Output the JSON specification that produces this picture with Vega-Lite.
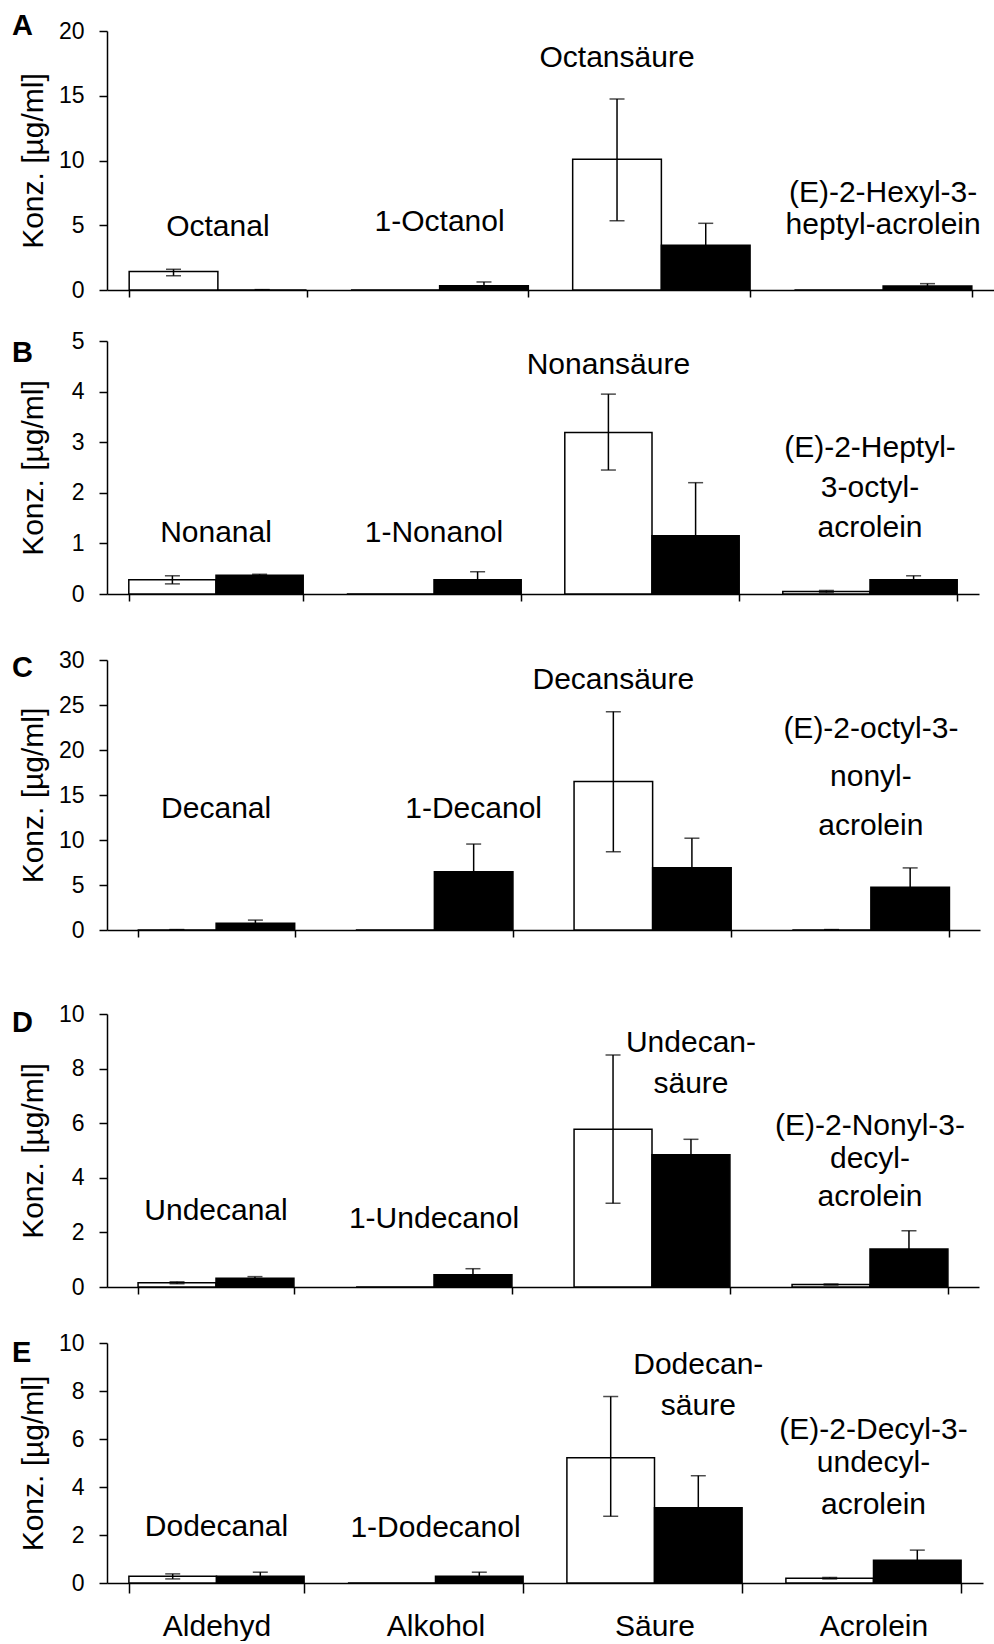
{
  "$schema": "https://vega.github.io/schema/vega-lite/v6.json",
  "padding": {"left": 12, "top": 11, "right": 0, "bottom": 0},
  "spacing": 28,
  "background": "white",
  "resolve": {"scale": {"xOffset": "independent", "fill": "independent"}},
  "config": {
    "view": {"stroke": null},
    "font": "Liberation Sans",
    "axis": {"domainColor": "black", "tickColor": "black", "labelColor": "black", "titleColor": "black", "grid": false, "labelFont": "Liberation Sans", "titleFont": "Liberation Sans", "domainWidth": 1.5, "tickWidth": 1.5},
    "axisY": {"tickSize": 8, "labelPadding": 15, "labelFontSize": 23, "titleFontSize": 30, "titleFontWeight": "normal", "titlePadding": 9, "minExtent": 50},
    "axisX": {"tickSize": 7, "tickBand": "extent", "labels": false},
    "title": {"anchor": "start", "frame": "group", "offset": 0, "dx": -95, "fontSize": 29, "fontWeight": "bold", "font": "Liberation Sans", "color": "black", "baseline": "alphabetic"}
  },
  "datasets": {
    "bars": [
      {"p":"A","cat":"Aldehyd","s":"w","v":1.42,"lo":1.1,"hi":1.6},
      {"p":"A","cat":"Aldehyd","s":"b","v":0,"lo":0,"hi":0.03},
      {"p":"A","cat":"Alkohol","s":"w","v":0,"lo":null,"hi":null},
      {"p":"A","cat":"Alkohol","s":"b","v":0.33,"lo":0.04,"hi":0.62},
      {"p":"A","cat":"Säure","s":"w","v":10.1,"lo":5.35,"hi":14.75},
      {"p":"A","cat":"Säure","s":"b","v":3.45,"lo":1.75,"hi":5.15},
      {"p":"A","cat":"Acrolein","s":"w","v":0,"lo":null,"hi":null},
      {"p":"A","cat":"Acrolein","s":"b","v":0.31,"lo":0.13,"hi":0.49},
      {"p":"B","cat":"Aldehyd","s":"w","v":0.28,"lo":0.2,"hi":0.36},
      {"p":"B","cat":"Aldehyd","s":"b","v":0.37,"lo":0.35,"hi":0.39},
      {"p":"B","cat":"Alkohol","s":"w","v":0,"lo":null,"hi":null},
      {"p":"B","cat":"Alkohol","s":"b","v":0.28,"lo":0.12,"hi":0.44},
      {"p":"B","cat":"Säure","s":"w","v":3.19,"lo":2.45,"hi":3.95},
      {"p":"B","cat":"Säure","s":"b","v":1.15,"lo":0.1,"hi":2.2},
      {"p":"B","cat":"Acrolein","s":"w","v":0.05,"lo":0.03,"hi":0.07},
      {"p":"B","cat":"Acrolein","s":"b","v":0.28,"lo":0.2,"hi":0.36},
      {"p":"C","cat":"Aldehyd","s":"w","v":0,"lo":0,"hi":0.05},
      {"p":"C","cat":"Aldehyd","s":"b","v":0.74,"lo":0.37,"hi":1.1},
      {"p":"C","cat":"Alkohol","s":"w","v":0,"lo":null,"hi":null},
      {"p":"C","cat":"Alkohol","s":"b","v":6.48,"lo":3.4,"hi":9.55},
      {"p":"C","cat":"Säure","s":"w","v":16.5,"lo":8.7,"hi":24.26},
      {"p":"C","cat":"Säure","s":"b","v":6.93,"lo":3.6,"hi":10.2},
      {"p":"C","cat":"Acrolein","s":"w","v":0,"lo":0,"hi":0.05},
      {"p":"C","cat":"Acrolein","s":"b","v":4.74,"lo":2.6,"hi":6.9},
      {"p":"D","cat":"Aldehyd","s":"w","v":0.16,"lo":0.12,"hi":0.19},
      {"p":"D","cat":"Aldehyd","s":"b","v":0.32,"lo":0.26,"hi":0.38},
      {"p":"D","cat":"Alkohol","s":"w","v":0,"lo":null,"hi":null},
      {"p":"D","cat":"Alkohol","s":"b","v":0.45,"lo":0.23,"hi":0.67},
      {"p":"D","cat":"Säure","s":"w","v":5.78,"lo":3.07,"hi":8.5},
      {"p":"D","cat":"Säure","s":"b","v":4.84,"lo":4.27,"hi":5.41},
      {"p":"D","cat":"Acrolein","s":"w","v":0.09,"lo":0.07,"hi":0.11},
      {"p":"D","cat":"Acrolein","s":"b","v":1.39,"lo":0.72,"hi":2.06},
      {"p":"E","cat":"Aldehyd","s":"w","v":0.28,"lo":0.17,"hi":0.38},
      {"p":"E","cat":"Aldehyd","s":"b","v":0.28,"lo":0.12,"hi":0.45},
      {"p":"E","cat":"Alkohol","s":"w","v":0,"lo":null,"hi":null},
      {"p":"E","cat":"Alkohol","s":"b","v":0.28,"lo":0.12,"hi":0.45},
      {"p":"E","cat":"Säure","s":"w","v":5.22,"lo":2.78,"hi":7.77},
      {"p":"E","cat":"Säure","s":"b","v":3.14,"lo":1.8,"hi":4.47},
      {"p":"E","cat":"Acrolein","s":"w","v":0.2,"lo":0.17,"hi":0.23},
      {"p":"E","cat":"Acrolein","s":"b","v":0.95,"lo":0.53,"hi":1.37}
    ],
    "labels": [
      {"p":"A","cat":"Aldehyd","a":"c","t":"Octanal","ly":4.19},
      {"p":"A","cat":"Alkohol","a":"c","t":"1-Octanol","ly":4.57},
      {"p":"A","cat":"Säure","a":"w","t":"Octansäure","ly":17.2},
      {"p":"A","cat":"Acrolein","a":"c","t":"(E)-2-Hexyl-3-","ly":6.77},
      {"p":"A","cat":"Acrolein","a":"c","t":"heptyl-acrolein","ly":4.31},
      {"p":"B","cat":"Aldehyd","a":"c","t":"Nonanal","ly":1.03},
      {"p":"B","cat":"Alkohol","a":"c","t":"1-Nonanol","ly":1.03},
      {"p":"B","cat":"Säure","a":"w","t":"Nonansäure","ly":4.34},
      {"p":"B","cat":"Acrolein","a":"c","t":"(E)-2-Heptyl-","ly":2.7},
      {"p":"B","cat":"Acrolein","a":"c","t":"3-octyl-","ly":1.91},
      {"p":"B","cat":"Acrolein","a":"c","t":"acrolein","ly":1.12},
      {"p":"C","cat":"Aldehyd","a":"c","t":"Decanal","ly":12.5},
      {"p":"C","cat":"Alkohol","a":"b","t":"1-Decanol","ly":12.4},
      {"p":"C","cat":"Säure","a":"w","t":"Decansäure","ly":26.8},
      {"p":"C","cat":"Acrolein","a":"c","t":"(E)-2-octyl-3-","ly":21.3},
      {"p":"C","cat":"Acrolein","a":"c","t":"nonyl-","ly":16.0},
      {"p":"C","cat":"Acrolein","a":"c","t":"acrolein","ly":10.6},
      {"p":"D","cat":"Aldehyd","a":"c","t":"Undecanal","ly":2.46},
      {"p":"D","cat":"Alkohol","a":"c","t":"1-Undecanol","ly":2.16},
      {"p":"D","cat":"Säure","a":"b","t":"Undecan-","ly":8.62},
      {"p":"D","cat":"Säure","a":"b","t":"säure","ly":7.1},
      {"p":"D","cat":"Acrolein","a":"c","t":"(E)-2-Nonyl-3-","ly":5.57},
      {"p":"D","cat":"Acrolein","a":"c","t":"decyl-","ly":4.35},
      {"p":"D","cat":"Acrolein","a":"c","t":"acrolein","ly":2.95},
      {"p":"E","cat":"Aldehyd","a":"c","t":"Dodecanal","ly":1.96},
      {"p":"E","cat":"Alkohol","a":"c","t":"1-Dodecanol","ly":1.9},
      {"p":"E","cat":"Säure","a":"b","t":"Dodecan-","ly":8.71},
      {"p":"E","cat":"Säure","a":"b","t":"säure","ly":7.02},
      {"p":"E","cat":"Acrolein","a":"c","t":"(E)-2-Decyl-3-","ly":6.01},
      {"p":"E","cat":"Acrolein","a":"c","t":"undecyl-","ly":4.61},
      {"p":"E","cat":"Acrolein","a":"c","t":"acrolein","ly":2.88}
    ]
  },
  "vconcat": [
    {
      "width": 887, "height": 259,
      "title": {"text": "A", "dy": 24.5},
      "encoding": {"x": {"field": "cat", "type": "nominal", "title": null, "sort": ["Aldehyd","Alkohol","Säure","Acrolein"], "scale": {"domain": ["Aldehyd","Alkohol","Säure","Acrolein"], "paddingInner": 0.2, "paddingOuter": 0.1}, "axis": {"title": null}}},
      "layer": [
        {"data": {"name": "bars"}, "transform": [{"filter": "datum.p === 'A'"}], "mark": {"type": "bar", "stroke": "black", "strokeWidth": 1.5},
         "encoding": {"xOffset": {"field": "s", "type": "nominal", "scale": {"domain": ["w","b"], "paddingInner": 0, "paddingOuter": 0}}, "y": {"field": "v", "type": "quantitative", "title": "Konz. [µg/ml]", "scale": {"domain": [0, 20]}, "axis": {"values": [0,5,10,15,20]}}, "fill": {"field": "s", "type": "nominal", "scale": {"domain": ["w","b"], "range": ["white","black"]}, "legend": null}}},
        {"data": {"name": "bars"}, "transform": [{"filter": "datum.p === 'A'"}], "mark": {"type": "rule", "color": "black", "strokeWidth": 1.5},
         "encoding": {"xOffset": {"field": "s", "type": "nominal"}, "y": {"field": "lo", "type": "quantitative", "title": "Konz. [µg/ml]"}, "y2": {"field": "hi"}}},
        {"data": {"name": "bars"}, "transform": [{"filter": "datum.p === 'A'"}], "mark": {"type": "tick", "color": "black", "size": 15, "thickness": 1.5},
         "encoding": {"xOffset": {"field": "s", "type": "nominal"}, "y": {"field": "lo", "type": "quantitative", "title": "Konz. [µg/ml]"}}},
        {"data": {"name": "bars"}, "transform": [{"filter": "datum.p === 'A'"}], "mark": {"type": "tick", "color": "black", "size": 15, "thickness": 1.5},
         "encoding": {"xOffset": {"field": "s", "type": "nominal"}, "y": {"field": "hi", "type": "quantitative", "title": "Konz. [µg/ml]"}}},
        {"data": {"name": "labels"}, "transform": [{"filter": "datum.p === 'A' && datum.a === 'c'"}], "mark": {"type": "text", "fontSize": 30, "baseline": "alphabetic", "color": "black"},
         "encoding": {"y": {"field": "ly", "type": "quantitative", "title": "Konz. [µg/ml]"}, "text": {"field": "t"}}},
        {"data": {"name": "labels"}, "transform": [{"filter": "datum.p === 'A' && datum.a !== 'c'"}], "mark": {"type": "text", "fontSize": 30, "baseline": "alphabetic", "color": "black"},
         "encoding": {"xOffset": {"field": "a", "type": "nominal"}, "y": {"field": "ly", "type": "quantitative", "title": "Konz. [µg/ml]"}, "text": {"field": "t"}}}
      ]
    },
    {
      "width": 872, "height": 253,
      "title": {"text": "B", "dy": 42},
      "encoding": {"x": {"field": "cat", "type": "nominal", "title": null, "sort": ["Aldehyd","Alkohol","Säure","Acrolein"], "scale": {"domain": ["Aldehyd","Alkohol","Säure","Acrolein"], "paddingInner": 0.2, "paddingOuter": 0.1}, "axis": {"title": " ", "titleFontSize": 1, "titlePadding": 18}}},
      "layer": [
        {"data": {"name": "bars"}, "transform": [{"filter": "datum.p === 'B'"}], "mark": {"type": "bar", "stroke": "black", "strokeWidth": 1.5},
         "encoding": {"xOffset": {"field": "s", "type": "nominal", "scale": {"domain": ["w","b"], "paddingInner": 0, "paddingOuter": 0}}, "y": {"field": "v", "type": "quantitative", "title": "Konz. [µg/ml]", "scale": {"domain": [0, 5]}, "axis": {"values": [0,1,2,3,4,5]}}, "fill": {"field": "s", "type": "nominal", "scale": {"domain": ["w","b"], "range": ["white","black"]}, "legend": null}}},
        {"data": {"name": "bars"}, "transform": [{"filter": "datum.p === 'B'"}], "mark": {"type": "rule", "color": "black", "strokeWidth": 1.5},
         "encoding": {"xOffset": {"field": "s", "type": "nominal"}, "y": {"field": "lo", "type": "quantitative", "title": "Konz. [µg/ml]"}, "y2": {"field": "hi"}}},
        {"data": {"name": "bars"}, "transform": [{"filter": "datum.p === 'B'"}], "mark": {"type": "tick", "color": "black", "size": 15, "thickness": 1.5},
         "encoding": {"xOffset": {"field": "s", "type": "nominal"}, "y": {"field": "lo", "type": "quantitative", "title": "Konz. [µg/ml]"}}},
        {"data": {"name": "bars"}, "transform": [{"filter": "datum.p === 'B'"}], "mark": {"type": "tick", "color": "black", "size": 15, "thickness": 1.5},
         "encoding": {"xOffset": {"field": "s", "type": "nominal"}, "y": {"field": "hi", "type": "quantitative", "title": "Konz. [µg/ml]"}}},
        {"data": {"name": "labels"}, "transform": [{"filter": "datum.p === 'B' && datum.a === 'c'"}], "mark": {"type": "text", "fontSize": 30, "baseline": "alphabetic", "color": "black"},
         "encoding": {"y": {"field": "ly", "type": "quantitative", "title": "Konz. [µg/ml]"}, "text": {"field": "t"}}},
        {"data": {"name": "labels"}, "transform": [{"filter": "datum.p === 'B' && datum.a !== 'c'"}], "mark": {"type": "text", "fontSize": 30, "baseline": "alphabetic", "color": "black"},
         "encoding": {"xOffset": {"field": "a", "type": "nominal"}, "y": {"field": "ly", "type": "quantitative", "title": "Konz. [µg/ml]"}, "text": {"field": "t"}}}
      ]
    },
    {
      "width": 873, "height": 270,
      "title": {"text": "C", "dy": 38},
      "encoding": {"x": {"field": "cat", "type": "nominal", "title": null, "sort": ["Aldehyd","Alkohol","Säure","Acrolein"], "scale": {"domain": ["Aldehyd","Alkohol","Säure","Acrolein"], "paddingInner": 0.28, "paddingOuter": 0.14}, "axis": {"title": " ", "titleFontSize": 1, "titlePadding": 36}}},
      "layer": [
        {"data": {"name": "bars"}, "transform": [{"filter": "datum.p === 'C'"}], "mark": {"type": "bar", "stroke": "black", "strokeWidth": 1.5},
         "encoding": {"xOffset": {"field": "s", "type": "nominal", "scale": {"domain": ["w","b"], "paddingInner": 0, "paddingOuter": 0}}, "y": {"field": "v", "type": "quantitative", "title": "Konz. [µg/ml]", "scale": {"domain": [0, 30]}, "axis": {"values": [0,5,10,15,20,25,30]}}, "fill": {"field": "s", "type": "nominal", "scale": {"domain": ["w","b"], "range": ["white","black"]}, "legend": null}}},
        {"data": {"name": "bars"}, "transform": [{"filter": "datum.p === 'C'"}], "mark": {"type": "rule", "color": "black", "strokeWidth": 1.5},
         "encoding": {"xOffset": {"field": "s", "type": "nominal"}, "y": {"field": "lo", "type": "quantitative", "title": "Konz. [µg/ml]"}, "y2": {"field": "hi"}}},
        {"data": {"name": "bars"}, "transform": [{"filter": "datum.p === 'C'"}], "mark": {"type": "tick", "color": "black", "size": 15, "thickness": 1.5},
         "encoding": {"xOffset": {"field": "s", "type": "nominal"}, "y": {"field": "lo", "type": "quantitative", "title": "Konz. [µg/ml]"}}},
        {"data": {"name": "bars"}, "transform": [{"filter": "datum.p === 'C'"}], "mark": {"type": "tick", "color": "black", "size": 15, "thickness": 1.5},
         "encoding": {"xOffset": {"field": "s", "type": "nominal"}, "y": {"field": "hi", "type": "quantitative", "title": "Konz. [µg/ml]"}}},
        {"data": {"name": "labels"}, "transform": [{"filter": "datum.p === 'C' && datum.a === 'c'"}], "mark": {"type": "text", "fontSize": 30, "baseline": "alphabetic", "color": "black"},
         "encoding": {"y": {"field": "ly", "type": "quantitative", "title": "Konz. [µg/ml]"}, "text": {"field": "t"}}},
        {"data": {"name": "labels"}, "transform": [{"filter": "datum.p === 'C' && datum.a !== 'c'"}], "mark": {"type": "text", "fontSize": 30, "baseline": "alphabetic", "color": "black"},
         "encoding": {"xOffset": {"field": "a", "type": "nominal"}, "y": {"field": "ly", "type": "quantitative", "title": "Konz. [µg/ml]"}, "text": {"field": "t"}}}
      ]
    },
    {
      "width": 872, "height": 273,
      "title": {"text": "D", "dy": 38.5},
      "encoding": {"x": {"field": "cat", "type": "nominal", "title": null, "sort": ["Aldehyd","Alkohol","Säure","Acrolein"], "scale": {"domain": ["Aldehyd","Alkohol","Säure","Acrolein"], "paddingInner": 0.285, "paddingOuter": 0.1425}, "axis": {"title": " ", "titleFontSize": 1, "titlePadding": 8}}},
      "layer": [
        {"data": {"name": "bars"}, "transform": [{"filter": "datum.p === 'D'"}], "mark": {"type": "bar", "stroke": "black", "strokeWidth": 1.5},
         "encoding": {"xOffset": {"field": "s", "type": "nominal", "scale": {"domain": ["w","b"], "paddingInner": 0, "paddingOuter": 0}}, "y": {"field": "v", "type": "quantitative", "title": "Konz. [µg/ml]", "scale": {"domain": [0, 10]}, "axis": {"values": [0,2,4,6,8,10]}}, "fill": {"field": "s", "type": "nominal", "scale": {"domain": ["w","b"], "range": ["white","black"]}, "legend": null}}},
        {"data": {"name": "bars"}, "transform": [{"filter": "datum.p === 'D'"}], "mark": {"type": "rule", "color": "black", "strokeWidth": 1.5},
         "encoding": {"xOffset": {"field": "s", "type": "nominal"}, "y": {"field": "lo", "type": "quantitative", "title": "Konz. [µg/ml]"}, "y2": {"field": "hi"}}},
        {"data": {"name": "bars"}, "transform": [{"filter": "datum.p === 'D'"}], "mark": {"type": "tick", "color": "black", "size": 15, "thickness": 1.5},
         "encoding": {"xOffset": {"field": "s", "type": "nominal"}, "y": {"field": "lo", "type": "quantitative", "title": "Konz. [µg/ml]"}}},
        {"data": {"name": "bars"}, "transform": [{"filter": "datum.p === 'D'"}], "mark": {"type": "tick", "color": "black", "size": 15, "thickness": 1.5},
         "encoding": {"xOffset": {"field": "s", "type": "nominal"}, "y": {"field": "hi", "type": "quantitative", "title": "Konz. [µg/ml]"}}},
        {"data": {"name": "labels"}, "transform": [{"filter": "datum.p === 'D' && datum.a === 'c'"}], "mark": {"type": "text", "fontSize": 30, "baseline": "alphabetic", "color": "black"},
         "encoding": {"y": {"field": "ly", "type": "quantitative", "title": "Konz. [µg/ml]"}, "text": {"field": "t"}}},
        {"data": {"name": "labels"}, "transform": [{"filter": "datum.p === 'D' && datum.a !== 'c'"}], "mark": {"type": "text", "fontSize": 30, "baseline": "alphabetic", "color": "black"},
         "encoding": {"xOffset": {"field": "a", "type": "nominal"}, "y": {"field": "ly", "type": "quantitative", "title": "Konz. [µg/ml]"}, "text": {"field": "t"}}}
      ]
    },
    {
      "width": 876, "height": 240,
      "title": {"text": "E", "dy": 39.5},
      "encoding": {"x": {"field": "cat", "type": "nominal", "title": null, "sort": ["Aldehyd","Alkohol","Säure","Acrolein"], "scale": {"domain": ["Aldehyd","Alkohol","Säure","Acrolein"], "paddingInner": 0.2, "paddingOuter": 0.1}, "axis": {"title": null, "labels": true, "labelAngle": 0, "labelFontSize": 30, "tickSize": 10, "labelPadding": 42, "labelBaseline": "alphabetic"}}},
      "layer": [
        {"data": {"name": "bars"}, "transform": [{"filter": "datum.p === 'E'"}], "mark": {"type": "bar", "stroke": "black", "strokeWidth": 1.5},
         "encoding": {"xOffset": {"field": "s", "type": "nominal", "scale": {"domain": ["w","b"], "paddingInner": 0, "paddingOuter": 0}}, "y": {"field": "v", "type": "quantitative", "title": "Konz. [µg/ml]", "scale": {"domain": [0, 10]}, "axis": {"values": [0,2,4,6,8,10]}}, "fill": {"field": "s", "type": "nominal", "scale": {"domain": ["w","b"], "range": ["white","black"]}, "legend": null}}},
        {"data": {"name": "bars"}, "transform": [{"filter": "datum.p === 'E'"}], "mark": {"type": "rule", "color": "black", "strokeWidth": 1.5},
         "encoding": {"xOffset": {"field": "s", "type": "nominal"}, "y": {"field": "lo", "type": "quantitative", "title": "Konz. [µg/ml]"}, "y2": {"field": "hi"}}},
        {"data": {"name": "bars"}, "transform": [{"filter": "datum.p === 'E'"}], "mark": {"type": "tick", "color": "black", "size": 15, "thickness": 1.5},
         "encoding": {"xOffset": {"field": "s", "type": "nominal"}, "y": {"field": "lo", "type": "quantitative", "title": "Konz. [µg/ml]"}}},
        {"data": {"name": "bars"}, "transform": [{"filter": "datum.p === 'E'"}], "mark": {"type": "tick", "color": "black", "size": 15, "thickness": 1.5},
         "encoding": {"xOffset": {"field": "s", "type": "nominal"}, "y": {"field": "hi", "type": "quantitative", "title": "Konz. [µg/ml]"}}},
        {"data": {"name": "labels"}, "transform": [{"filter": "datum.p === 'E' && datum.a === 'c'"}], "mark": {"type": "text", "fontSize": 30, "baseline": "alphabetic", "color": "black"},
         "encoding": {"y": {"field": "ly", "type": "quantitative", "title": "Konz. [µg/ml]"}, "text": {"field": "t"}}},
        {"data": {"name": "labels"}, "transform": [{"filter": "datum.p === 'E' && datum.a !== 'c'"}], "mark": {"type": "text", "fontSize": 30, "baseline": "alphabetic", "color": "black"},
         "encoding": {"xOffset": {"field": "a", "type": "nominal"}, "y": {"field": "ly", "type": "quantitative", "title": "Konz. [µg/ml]"}, "text": {"field": "t"}}}
      ]
    }
  ]
}
